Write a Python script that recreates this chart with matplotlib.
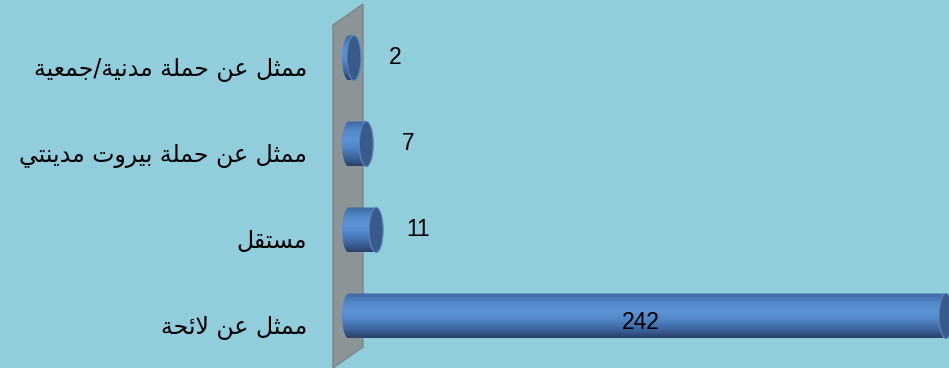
import numpy as np
import matplotlib
matplotlib.use("Agg")
import matplotlib.pyplot as plt
from matplotlib.patches import Ellipse, Polygon
from matplotlib.colors import LinearSegmentedColormap
from matplotlib.transforms import ScaledTranslation

# data (top to bottom)
categories = ["ممثل عن حملة مدنية/جمعية", "ممثل عن حملة بيروت مدينتي", "مستقل", "ممثل عن لائحة"]
values = [2, 7, 11, 242]

# minimal arabic shaping (matplotlib has no bidi / joining)
FORMS = {
    "ا": (0xFE8D, 0xFE8E), "ة": (0xFE93, 0xFE94), "د": (0xFEA9, 0xFEAA),
    "ر": (0xFEAD, 0xFEAE), "و": (0xFEED, 0xFEEE),
    "ب": (0xFE8F, 0xFE90, 0xFE91, 0xFE92), "ت": (0xFE95, 0xFE96, 0xFE97, 0xFE98),
    "ث": (0xFE99, 0xFE9A, 0xFE9B, 0xFE9C), "ج": (0xFE9D, 0xFE9E, 0xFE9F, 0xFEA0),
    "ح": (0xFEA1, 0xFEA2, 0xFEA3, 0xFEA4), "س": (0xFEB1, 0xFEB2, 0xFEB3, 0xFEB4),
    "ع": (0xFEC9, 0xFECA, 0xFECB, 0xFECC), "ق": (0xFED5, 0xFED6, 0xFED7, 0xFED8),
    "ل": (0xFEDD, 0xFEDE, 0xFEDF, 0xFEE0), "م": (0xFEE1, 0xFEE2, 0xFEE3, 0xFEE4),
    "ن": (0xFEE5, 0xFEE6, 0xFEE7, 0xFEE8), "ي": (0xFEF1, 0xFEF2, 0xFEF3, 0xFEF4),
    "ئ": (0xFE89, 0xFE8A, 0xFE8B, 0xFE8C),
}


def shape(txt):
    # lam-alef ligature first
    chars = []
    i = 0
    while i < len(txt):
        if txt[i] == "ل" and i + 1 < len(txt) and txt[i + 1] == "ا":
            chars.append("LA")
            i += 2
        else:
            chars.append(txt[i])
            i += 1

    def joins_next(c):
        return c in FORMS and len(FORMS[c]) == 4

    def joins_prev(c):
        return c in FORMS or c == "LA"

    out = []
    for k, c in enumerate(chars):
        prev = chars[k - 1] if k > 0 else None
        nxt = chars[k + 1] if k + 1 < len(chars) else None
        p = prev is not None and joins_next(prev)
        if c == "LA":
            out.append(chr(0xFEFC if p else 0xFEFB))
            continue
        if c not in FORMS:
            out.append(c)
            continue
        f = FORMS[c]
        n = len(f) == 4 and nxt is not None and joins_prev(nxt)
        if p and n:
            out.append(chr(f[3]))
        elif n:
            out.append(chr(f[2]))
        elif p:
            out.append(chr(f[1]))
        else:
            out.append(chr(f[0]))
    return "".join(out[::-1])


bg = "#92CDDC"
W, H = 9.49, 3.68
fig = plt.figure(figsize=(W, H), dpi=100, facecolor=bg)
ax = fig.add_axes([342 / 949, 0, 1 - 342 / 949, 1])
ax.set_facecolor("none")
ax.set_zorder(2)

px = 2.467  # pixels per unit
x0 = -7 / px
ax.set_xlim(x0, x0 + 607 / px)
ax.set_ylim((368 - 58) / 86, -58 / 86)

# back wall
wall = Polygon([[333 / 949, 1 - 25 / 368], [363 / 949, 1 - 4 / 368],
                [363 / 949, 1 - 347 / 368], [333 / 949, 1 - 368 / 368]],
               closed=True, transform=fig.transFigure, facecolor="#8C9497",
               edgecolor="#7D8589", lw=1, zorder=0)
fig.patches.append(wall)

cmap = LinearSegmentedColormap.from_list(
    "cyl", ["#3F67A0", "#5287C9", "#5D93D6", "#5185C6", "#3E66A0", "#2B4169"])
grad = np.linspace(0, 1, 100).reshape(-1, 1)

h = 45 / 86
rx = 7 / px
for i, v in enumerate(values):
    y = i
    t = np.linspace(np.pi / 2, 3 * np.pi / 2, 40)
    verts = [(xx, yy) for xx, yy in zip(rx * np.cos(t), y + (-h / 2) * np.sin(t))]
    verts = verts + [(v, y + h / 2), (v, y - h / 2)]
    clip = Polygon(verts, closed=True, transform=ax.transData)
    im = ax.imshow(grad, cmap=cmap, aspect="auto", extent=(-rx, v, y + h / 2, y - h / 2),
                   origin="upper", interpolation="bilinear", zorder=2)
    im.set_clip_path(clip)
    cap = Ellipse((v, y), 2 * rx, h, facecolor="#395B8B", edgecolor="#5A86C2",
                  lw=0.8, zorder=3)
    ax.add_patch(cap)
    if v > 100:
        ax.annotate(str(v), (v / 2, y), xytext=(-5, -5), textcoords="offset points",
                    ha="center", va="center", fontsize=16.5, color="black",
                    family=["Liberation Sans", "DejaVu Sans"], zorder=4)
    else:
        ax.annotate(str(v), (v, y), xytext=(30, 0), textcoords="offset points",
                    ha="center", va="center", fontsize=16.5, color="black",
                    family=["Liberation Sans", "DejaVu Sans"], zorder=4)

ax.set_xticks([])
ax.set_yticks(range(len(categories)))
ax.set_yticklabels([shape(c) for c in categories], fontsize=17,
                   family=["DejaVu Sans"])
ax.tick_params(axis="y", length=0, pad=25)
off = ScaledTranslation(0, -9 / 100, fig.dpi_scale_trans)
for lab in ax.get_yticklabels():
    lab.set_transform(lab.get_transform() + off)
for s in ax.spines.values():
    s.set_visible(False)

fig.savefig("out.png", dpi=100, facecolor=bg)
